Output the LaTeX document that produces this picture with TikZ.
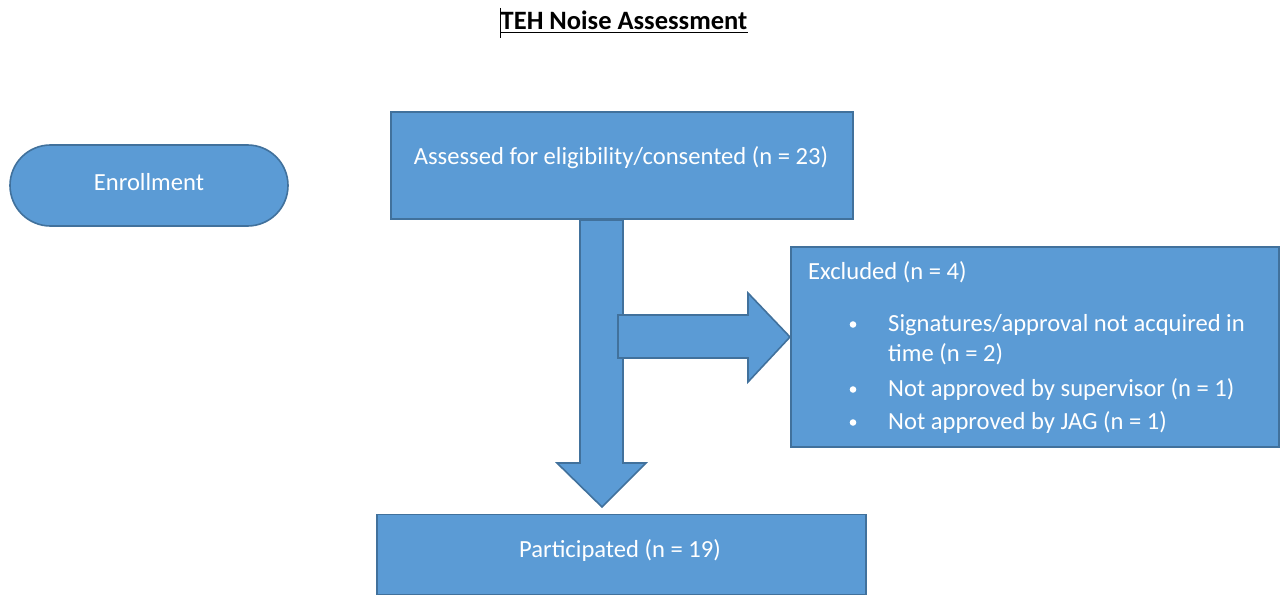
\documentclass[tikz,border=0pt]{standalone}
\usepackage{fontspec}
\setmainfont{Carlito}
\usetikzlibrary{shapes.misc, calc}
\definecolor{boxfill}{HTML}{5B9BD5}
\definecolor{boxline}{HTML}{41719C}
\tikzset{
  blockbox/.style={draw=boxline, fill=boxfill, line width=1.6pt, inner sep=0pt},
  boxtext/.style={text=white, font=\fontsize{24.6}{29}\selectfont, inner sep=0pt},
  blockarrow/.style={draw=boxline, fill=boxfill, line width=1.6pt, line join=miter},
}
\begin{document}
\begin{tikzpicture}[x=1pt, y=-1pt]
  \useasboundingbox (0,0) rectangle (1281,596);

  % title with underline and text cursor
  \node[font=\fontsize{26.5}{31}\selectfont\bfseries, anchor=base, inner sep=0pt] (title) at (624,29.5) {TEH Noise Assessment};
  \draw[line width=1.5pt] ($(title.base west)+(0,3)$) -- ($(title.base east)+(0,3)$);
  \draw[line width=1pt] (500,8) -- (500,38);

  % enrollment label
  \node[blockbox, rounded rectangle, minimum width=278pt, minimum height=81pt] (enrol) at (149,185.5) {};
  \node[boxtext] (enroltext) at (149,182) {Enrollment};

  % boxes
  \node[blockbox, rectangle, minimum width=462pt, minimum height=107pt] (assessed) at (622,165.5) {};
  \node[boxtext] (assessedtext) at (621,158) {Assessed for eligibility/consented (n = 23)};

  \node[blockbox, rectangle, minimum width=488pt, minimum height=200pt] (excluded) at (1035,347) {};

  \node[blockbox, rectangle, minimum width=489pt, minimum height=80pt] (part) at (621.5,554.5) {};
  \node[boxtext] (parttext) at (620,550) {Participated (n = 19)};

  % block arrows
  \draw[blockarrow] (580,220) -- (623,220) -- (623,463) -- (646,463) -- (602,507) -- (557,463) -- (580,463) -- cycle;
  \draw[blockarrow] (618,315) -- (748,315) -- (748,293) -- (790,337) -- (748,382) -- (748,358) -- (618,358) -- cycle;

  % excluded box contents
  \node[boxtext, anchor=base west] (exhead) at (808,279) {Excluded (n = 4)};
  \foreach \y in {331, 396, 429} {
    \fill[white] (853,\y-6.5) circle (3.3pt);
  }
  \node[boxtext, anchor=base west] (ex1) at (888,331) {Signatures/approval not acquired in};
  \node[boxtext, anchor=base west] (ex1b) at (888,361) {time (n = 2)};
  \node[boxtext, anchor=base west] (ex2) at (888,396) {Not approved by supervisor (n = 1)};
  \node[boxtext, anchor=base west] (ex3) at (888,429) {Not approved by JAG (n = 1)};
\end{tikzpicture}
\end{document}
